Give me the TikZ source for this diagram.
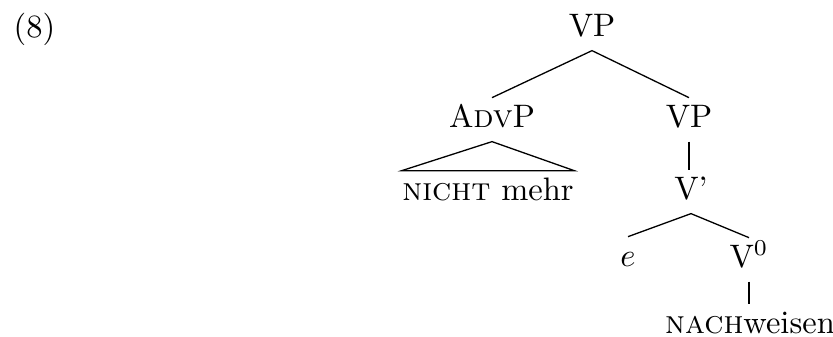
\documentclass[tikz,border=0pt]{standalone}
\begin{document}
\begin{tikzpicture}[x=0.3077pt,y=-0.3077pt,
  tn/.style={anchor=base,inner xsep=0pt,inner ysep=2pt,text height=6.83pt,text depth=2.3pt},
  edge/.style={draw=black,line width=0.4pt}]
\useasboundingbox (0,0) rectangle (833,336);
\node[anchor=base west,inner sep=0pt] (num) at (13,37) {(8)};
\node[tn] (vp) at (592,36) {VP};
\node[tn] (advp) at (492,127) {A\textsc{dv}P};
\node[tn] (vp2) at (689,127) {VP};
\node[tn] (nm) at (488,200) {\textsc{nicht} mehr};
\node[tn] (vbar) at (691,199) {V'};
\node[tn] (e) at (628,266) {$e$};
\node[tn] (v0) at (749,267) {V$^0$};
\node[tn] (nw) at (750,333) {\textsc{nach}weisen};
\draw[edge] (advp.north) -- (vp.south) -- (vp2.north);
\draw[edge] (nm.north west) -- (advp.south) -- (nm.north east) -- cycle;
\draw[edge] (vp2.south) -- (vp2.south |- vbar.north);
\draw[edge] (e.north) -- (vbar.south) -- (v0.north);
\draw[edge] (v0.south) -- (v0.south |- nw.north);
\end{tikzpicture}
\end{document}
